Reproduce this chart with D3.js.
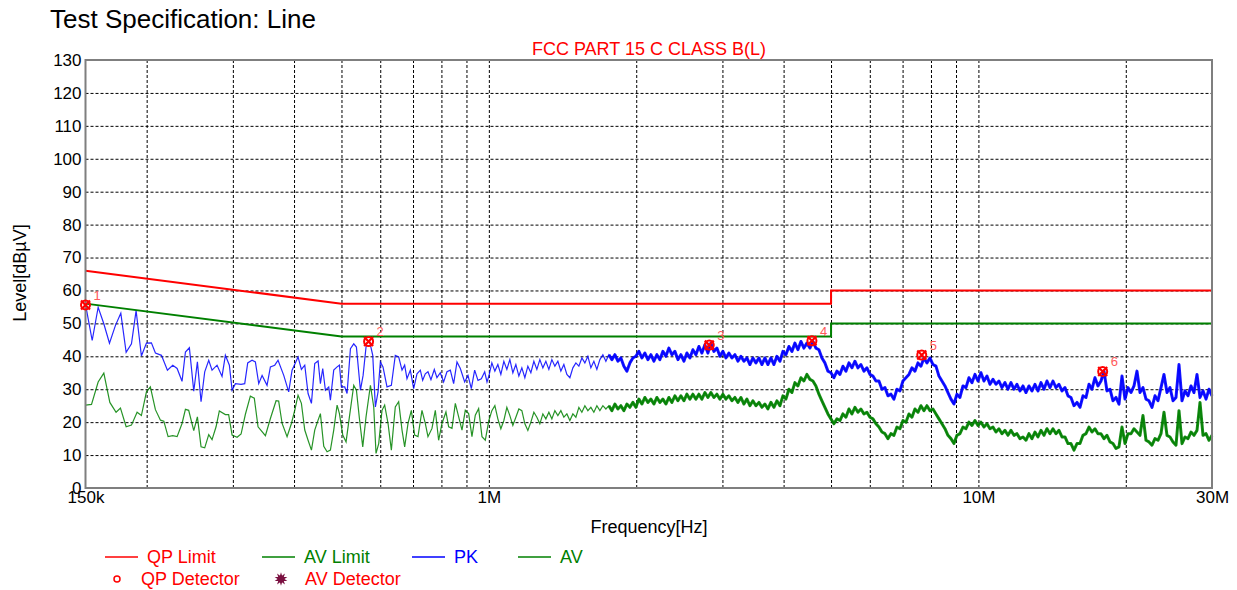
<!DOCTYPE html>
<html>
<head>
<meta charset="utf-8">
<script src="https://cdn.jsdelivr.net/npm/d3@7"></script>
<style>
  body { margin: 0; background: #fff; }
  text { font-family: Arial, "Liberation Sans", sans-serif; }
</style>
</head>
<body>
<div id="chart-area"></div>
<script>
// limit lines (MHz / dBuV)
var limitFreqs = [0.15, 0.5, 5, 5, 30];
var qpLimit = [66, 56, 56, 60, 60];
var avLimit = [56, 46, 46, 50, 50];

// PK trace, 150k - 1M (kHz / dBuV)
var pkLowFreq = [150.0, 154.8, 159.2, 163.5, 167.9, 172.7, 177.1, 181.6, 186.2, 190.3,
  195.1, 199.8, 204.5, 208.4, 214.4, 220.5, 226.1, 230.8, 236.2, 240.0,
  244.5, 249.6, 253.9, 258.3, 262.8, 267.8, 272.0, 278.5, 285.1, 289.6,
  295.1, 298.9, 303.6, 311.8, 317.2, 321.7, 328.3, 333.5, 338.8, 344.2,
  352.3, 357.9, 365.3, 371.0, 381.1, 390.1, 396.3, 407.6, 414.1, 420.7,
  427.3, 434.1, 440.9, 447.9, 452.8, 457.8, 463.6, 470.9, 474.6, 482.1,
  489.8, 495.2, 499.8, 507.7, 513.3, 521.5, 529.7, 536.4, 546.6, 553.5,
  562.1, 570.2, 579.2, 586.4, 593.8, 600.3, 607.8, 619.4, 632.2, 644.0,
  654.3, 664.7, 673.0, 680.4, 691.2, 702.1, 713.2, 724.5, 732.5, 741.6,
  751.0, 761.6, 773.7, 783.4, 795.8, 808.4, 821.2, 834.2, 847.4, 860.8,
  874.5, 892.4, 906.5, 920.8, 935.4, 950.2, 965.3, 980.6, 991.3];
var pkLowLevel = [55.8, 44.8, 54.9, 49.9, 44.0, 49.4, 53.1, 41.2, 43.8, 53.9,
  40.1, 44.0, 44.1, 41.0, 40.3, 35.8, 37.3, 36.3, 32.4, 41.3,
  42.6, 29.4, 38.3, 26.2, 35.3, 38.8, 35.8, 37.3, 33.9, 40.3,
  37.3, 29.7, 31.7, 31.5, 31.7, 38.0, 38.8, 38.3, 31.7, 34.2,
  31.2, 36.8, 37.3, 38.8, 34.2, 29.2, 35.8, 39.8, 36.0, 37.3,
  28.7, 25.7, 37.8, 38.6, 31.7, 36.3, 29.7, 30.7, 26.7, 35.8,
  36.8, 37.3, 30.7, 30.7, 28.7, 42.3, 43.8, 42.8, 29.7, 34.2,
  43.8, 44.8, 40.3, 24.6, 29.2, 38.3, 36.8, 30.7, 31.2, 40.3,
  39.8, 35.8, 37.3, 33.2, 35.8, 30.2, 34.7, 35.8, 32.7, 34.7,
  35.3, 32.9, 36.0, 33.5, 35.0, 32.2, 35.3, 35.8, 31.7, 38.3,
  36.3, 32.2, 34.2, 30.2, 35.8, 32.7, 33.2, 35.3, 32.2];

// AV trace, 150k - 1M (kHz / dBuV)
var avLowFreq = [150.0, 154.3, 159.2, 163.5, 168.2, 173.2, 176.8, 181.6, 186.2, 191.2,
  195.1, 199.8, 203.5, 208.4, 213.4, 216.8, 221.2, 226.1, 230.8, 236.2,
  240.0, 243.7, 249.6, 253.9, 258.3, 262.8, 267.8, 272.0, 277.2, 281.5,
  289.6, 294.1, 298.9, 306.0, 311.8, 318.2, 325.7, 331.8, 337.7, 349.6,
  357.9, 367.6, 372.1, 378.2, 387.1, 395.1, 401.3, 407.6, 414.1, 420.7,
  427.3, 434.1, 440.9, 447.9, 452.8, 460.0, 467.3, 474.6, 482.1, 489.8,
  495.2, 503.0, 510.9, 519.0, 529.7, 536.4, 544.0, 552.6, 561.2, 572.9,
  581.9, 588.2, 595.7, 605.0, 612.6, 622.4, 632.2, 644.0, 654.3, 664.7,
  673.0, 683.7, 694.5, 705.4, 716.5, 730.1, 741.6, 751.0, 765.3, 777.4,
  789.6, 802.1, 817.3, 827.7, 840.8, 854.1, 867.6, 881.3, 895.1, 909.3,
  923.6, 938.2, 953.1, 968.2, 983.4];
var avLowLevel = [25.2, 25.4, 32.2, 34.9, 26.0, 23.0, 24.3, 18.6, 19.1, 23.0,
  22.0, 29.2, 30.7, 23.8, 20.6, 20.3, 15.6, 15.9, 15.6, 19.6,
  23.9, 23.6, 17.4, 21.6, 12.5, 12.2, 16.2, 14.7, 18.6, 23.4,
  22.3, 22.3, 16.1, 15.4, 16.4, 22.4, 27.9, 27.3, 18.6, 15.9,
  21.1, 26.5, 26.4, 19.6, 15.6, 19.6, 23.6, 28.2, 25.7, 17.6,
  14.5, 11.5, 17.6, 20.6, 22.6, 12.7, 11.0, 11.5, 17.6, 25.2,
  22.6, 16.1, 14.0, 21.6, 31.2, 29.7, 21.1, 12.5, 21.6, 31.2,
  24.6, 10.5, 13.5, 23.6, 25.2, 19.6, 11.5, 24.6, 26.2, 17.6,
  12.5, 19.6, 23.6, 16.1, 15.6, 23.6, 19.6, 15.6, 18.1, 23.6,
  14.5, 19.6, 23.1, 18.6, 18.1, 25.7, 21.6, 17.6, 23.6, 22.6,
  15.6, 22.1, 24.1, 15.6, 14.5];

// 1M - 30M sweep, equal log steps (dBuV)
var sweepStart = 1e6, sweepStop = 30e6;
var pkSweep = [34, 38, 35.5, 37.5, 34.5, 38.5, 36, 39, 35, 37.5,
  34, 36.5, 33.5, 37, 35, 38.5, 36, 39, 36.5, 38.5,
  36, 39, 37, 38.5, 35.5, 37.5, 34.5, 33.5, 36.5, 38,
  37, 39.5, 38, 40, 36.5, 38.5, 36, 39, 40.5, 38.5,
  40.5, 39, 40.5, 38.5, 39.5, 37, 35.5, 38, 39.5, 40,
  41.5, 39.5, 41, 39, 40.5, 38.5, 40.5, 39, 41.5, 40,
  42.5, 40.5, 41.5, 39, 40.5, 38.5, 41, 39.5, 42, 40.5,
  43, 41, 43.5, 41, 44, 41.5, 42.5, 40, 41.5, 39.5,
  41, 39.5, 40.5, 38.5, 40, 38.5, 39.5, 37.5, 39.5, 38,
  39.5, 37.5, 39.5, 37.5, 39.5, 37.5, 40, 38.5, 41.5, 40.5,
  43, 41.5, 44, 42, 44.5, 42.5, 44, 42.5, 44.5, 42.5,
  42, 39.5, 38, 35.5, 35, 33.5, 35.5, 34.5, 37, 35.5,
  38, 36.5, 38.5, 36.5, 37.5, 35.5, 36.5, 34.5, 34, 32.5,
  32.5, 30, 30.5, 28, 28.5, 27, 30, 29.5, 32.5, 33.5,
  34.5, 36.5, 35.5, 38, 37, 39.5, 38, 39.5, 37.5, 37,
  34, 32.5, 31, 29, 27, 25.5, 28.5, 27.5, 31, 30.5,
  33.5, 32, 34.5, 32.5, 35, 32.5, 34, 31.5, 33, 31.5,
  32.5, 30.5, 32, 30, 32, 30, 31.5, 29.5, 31, 29,
  31, 29.5, 31.5, 29.5, 32, 30, 32.5, 30.5, 32.5, 30.5,
  31.5, 29.5, 30.5, 28, 27.5, 25, 26, 24.5, 28, 27.5,
  31.5, 30, 33.5, 31, 32.5, 35.5, 29.5, 30, 26.5, 27.5,
  25.5, 34, 27, 30.5, 29, 31, 35.5, 29, 30.5, 27,
  26.5, 24.5, 28, 26.5, 30.5, 34.5, 29, 30.5, 26.5, 27.5,
  37.5, 26.5, 29.5, 28, 31, 29, 34.5, 27.5, 29.5, 27, 30, 28];
var avSweep = [20.5, 23.5, 25, 21, 18, 20.5, 24.5, 22, 19, 21.5,
  24, 23.5, 19.5, 17.5, 20, 23, 21.5, 19.5, 22.5, 21,
  23, 21, 23.5, 22, 23.5, 21.5, 22.5, 20.5, 22.5, 21.5,
  24.5, 23, 25, 23.5, 24.5, 23, 25, 23.5, 25, 24,
  25, 23.5, 25.5, 24, 25, 23.5, 25.5, 24.5, 26, 24.5,
  27, 25.5, 27.5, 26, 27, 25.5, 27.5, 26, 27, 25.5,
  27.5, 26, 28, 26.5, 28, 26.5, 28.5, 27, 28.5, 27,
  28.5, 27, 29, 27.5, 29, 27.5, 28.5, 27, 28.5, 27,
  28, 26.5, 27.5, 26, 27.5, 25.5, 27, 25, 26.5, 25,
  26, 24.5, 25.5, 24, 26, 24.5, 26.5, 25, 28, 27,
  30, 29, 32, 31, 33.5, 32.5, 34.5, 33, 32.5, 31,
  28.5, 26.5, 24.5, 22.5, 21, 19.5, 21, 20.5, 22.5, 21.5,
  24, 22.5, 24.5, 23, 24, 22.5, 23, 21.5, 21, 19.5,
  18.5, 17, 16.5, 15, 16.5, 16, 18.5, 18, 20.5, 20,
  22.5, 21.5, 24, 23, 25, 23.5, 25, 23.5, 24, 22.5,
  21, 19.5, 18, 16, 15, 13.5, 16, 16.5, 18.5, 18,
  20, 19, 20.5, 19, 20, 18.5, 19.5, 18, 18.5, 17,
  18, 16.5, 17.5, 16, 17.5, 16, 16.5, 15, 15.5, 14.5,
  16.5, 15, 17, 15.5, 17.5, 16, 18, 16.5, 18, 16.5,
  17.5, 15.5, 15.5, 13.5, 13.5, 11.5, 13.5, 13.5, 16, 16.5,
  18.5, 17, 18, 16.5, 16.5, 15, 16, 14, 13.5, 12,
  12.5, 18.5, 13.5, 16.5, 16.5, 18, 17, 16, 22, 14.5,
  14, 13, 15, 14.5, 16.5, 23, 16, 15.5, 14, 13,
  23.5, 13.5, 15.5, 15, 17, 16, 17.5, 26, 16, 16.5, 14.5, 16];

// final measurement markers (MHz / dBuV)
var markerFreqs = [0.150, 0.568, 2.82, 4.57, 7.66, 17.94];
var markerLevels = [55.6, 44.5, 43.4, 44.7, 40.4, 35.4];
var markerLabels = ["1", "2", "3", "4", "5", "6"];

// axis ticks
var yTicks = [0, 10, 20, 30, 40, 50, 60, 70, 80, 90, 100, 110, 120, 130];
var xLabelFreqs = [150e3, 1e6, 10e6, 30e6];
var xLabelText = ["150k", "1M", "10M", "30M"];
var xGridFreqs = [200e3, 300e3, 400e3, 500e3, 600e3, 700e3, 800e3, 900e3, 1e6,
  2e6, 3e6, 4e6, 5e6, 6e6, 7e6, 8e6, 9e6, 10e6, 20e6];

var W = 1237, H = 590;
var plotL = 85.5, plotR = 1212, plotT = 60, plotB = 488;
var denseFrom = 1.75e6;   // above this the sweep is drawn as a thick band

var svg = d3.select("#chart-area").append("svg")
  .attr("width", W)
  .attr("height", H);

var x = d3.scaleLog().domain([150e3, 30e6]).range([plotL, plotR]);
var y = d3.scaleLinear().domain([0, 130]).range([plotB, plotT]);

// build point lists
function pairs(freqs, levels, mult) {
  return freqs.map((f, i) => ({ f: f * mult, v: levels[i] }));
}
function sweep(levels) {
  var n = levels.length;
  return levels.map((v, i) => ({ f: sweepStart * Math.pow(sweepStop / sweepStart, i / (n - 1)), v: v }));
}
var pkData = pairs(pkLowFreq, pkLowLevel, 1e3).concat(sweep(pkSweep));
var avData = pairs(avLowFreq, avLowLevel, 1e3).concat(sweep(avSweep));
var qpData = pairs(limitFreqs, qpLimit, 1e6);
var avlData = pairs(limitFreqs, avLimit, 1e6);
var markers = pairs(markerFreqs, markerLevels, 1e6);

// titles
svg.append("text")
  .attr("x", 50).attr("y", 28)
  .attr("font-size", "26px")
  .text("Test Specification: Line");

svg.append("text")
  .attr("x", 649).attr("y", 55)
  .attr("font-size", "18px")
  .attr("fill", "#ff0000")
  .attr("text-anchor", "middle")
  .text("FCC PART 15 C CLASS B(L)");

// grid
svg.append("g")
  .attr("transform", `translate(0, ${plotB})`)
  .call(d3.axisBottom(x).tickValues(xGridFreqs).tickSize(-(plotB - plotT)).tickFormat(""))
  .call(g => g.select(".domain").remove())
  .selectAll("line")
  .attr("stroke", "#000")
  .attr("stroke-dasharray", "3,2");

svg.append("g")
  .attr("transform", `translate(${plotL}, 0)`)
  .call(d3.axisLeft(y).tickValues(yTicks.slice(1, -1)).tickSize(-(plotR - plotL)).tickFormat(""))
  .call(g => g.select(".domain").remove())
  .selectAll("line")
  .attr("stroke", "#000")
  .attr("stroke-dasharray", "3,2");

// tick labels
var yAxis = svg.append("g")
  .attr("transform", `translate(${plotL - 3}, 0)`)
  .call(d3.axisLeft(y).tickValues(yTicks).tickSize(0).tickPadding(1));
yAxis.select(".domain").remove();
yAxis.selectAll("text")
  .attr("font-size", "17px")
  .attr("font-family", "Arial, 'Liberation Sans', sans-serif")
  .attr("fill", "#000");

var xAxis = svg.append("g")
  .attr("transform", `translate(0, ${plotB})`)
  .call(d3.axisBottom(x).tickValues(xLabelFreqs).tickSize(0).tickPadding(3)
    .tickFormat((d, i) => xLabelText[i]));
xAxis.select(".domain").remove();
xAxis.selectAll("text")
  .attr("font-size", "17px")
  .attr("font-family", "Arial, 'Liberation Sans', sans-serif")
  .attr("fill", "#000");

// axis titles
svg.append("text")
  .attr("x", 649).attr("y", 533)
  .attr("font-size", "18px")
  .attr("text-anchor", "middle")
  .text("Frequency[Hz]");

svg.append("text")
  .attr("transform", "translate(25.5, 273) rotate(-90)")
  .attr("font-size", "18px")
  .attr("text-anchor", "middle")
  .text("Level[dBµV]");

// traces
var line = d3.line().x(d => x(d.f)).y(d => y(d.v));

function trace(data, color) {
  svg.append("path")
    .datum(data)
    .attr("d", line)
    .attr("fill", "none")
    .attr("stroke", color)
    .attr("stroke-opacity", 0.85)
    .attr("stroke-width", 1.2);
  // dense sweep part, drawn heavier
  svg.append("path")
    .datum(data.filter(d => d.f >= denseFrom))
    .attr("d", line)
    .attr("fill", "none")
    .attr("stroke", color)
    .attr("stroke-opacity", 0.9)
    .attr("stroke-width", 3)
    .attr("stroke-linejoin", "round");
}
trace(avData, "#008000");
trace(pkData, "#0000ff");

// limits
svg.append("path")
  .datum(qpData)
  .attr("d", line)
  .attr("fill", "none")
  .attr("stroke", "#ff0000")
  .attr("stroke-width", 2);

svg.append("path")
  .datum(avlData)
  .attr("d", line)
  .attr("fill", "none")
  .attr("stroke", "#008000")
  .attr("stroke-width", 2);

// frame
svg.append("rect")
  .attr("x", plotL).attr("y", plotT)
  .attr("width", plotR - plotL).attr("height", plotB - plotT)
  .attr("fill", "none")
  .attr("stroke", "#7f7f7f")
  .attr("stroke-width", 2);

// markers
var mk = svg.selectAll(".marker")
  .data(markers)
  .enter().append("g")
  .attr("class", "marker")
  .attr("transform", d => `translate(${x(d.f)}, ${y(d.v)})`);

mk.append("circle")
  .attr("r", 4.5)
  .attr("fill", "none")
  .attr("stroke", "#ff0000")
  .attr("stroke-width", 2);
mk.append("path")
  .attr("d", "M-4.5,-4.5L4.5,4.5M-4.5,4.5L4.5,-4.5")
  .attr("stroke", "#ff0000")
  .attr("stroke-width", 2.2);
mk.append("text")
  .attr("x", 8).attr("y", -5)
  .attr("font-size", "13px")
  .attr("fill", "#ff5a5a")
  .text((d, i) => markerLabels[i]);

// legend
var legend1 = [
  { name: "QP Limit", color: "#ff0000", x: 105 },
  { name: "AV Limit", color: "#008000", x: 262 },
  { name: "PK", color: "#0000ff", x: 412 },
  { name: "AV", color: "#008000", x: 518 }
];
var lg = svg.selectAll(".lg1")
  .data(legend1)
  .enter().append("g")
  .attr("class", "lg1")
  .attr("transform", d => `translate(${d.x}, 557)`);
lg.append("line")
  .attr("x1", 0).attr("x2", 33)
  .attr("stroke", d => d.color)
  .attr("stroke-width", 1.6);
lg.append("text")
  .attr("x", 42).attr("y", 6)
  .attr("font-size", "18px")
  .attr("fill", d => d.color)
  .text(d => d.name);

svg.append("circle")
  .attr("cx", 117).attr("cy", 579)
  .attr("r", 3)
  .attr("fill", "none")
  .attr("stroke", "#ff0000")
  .attr("stroke-width", 1.5);
svg.append("text")
  .attr("x", 141).attr("y", 585)
  .attr("font-size", "18px")
  .attr("fill", "#ff0000")
  .text("QP Detector");

svg.append("path")
  .attr("transform", "translate(281, 579)")
  .attr("d", d3.symbol().type(d3.symbolStar).size(50)())
  .attr("fill", "#7a1040");
svg.append("path")
  .attr("transform", "translate(281, 579) rotate(36)")
  .attr("d", d3.symbol().type(d3.symbolStar).size(50)())
  .attr("fill", "#7a1040");
svg.append("text")
  .attr("x", 305).attr("y", 585)
  .attr("font-size", "18px")
  .attr("fill", "#ff0000")
  .text("AV Detector");
</script>
</body>
</html>
